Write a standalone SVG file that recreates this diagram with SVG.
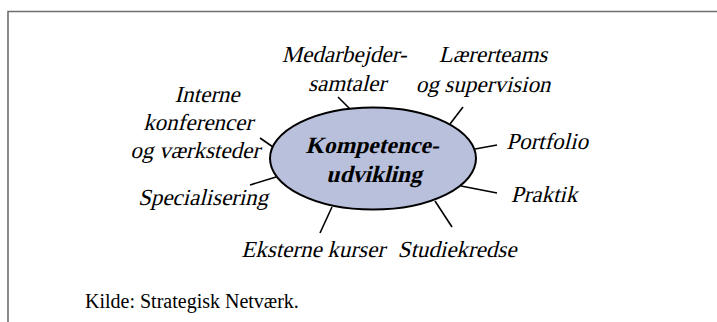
<svg xmlns="http://www.w3.org/2000/svg" width="717" height="322" viewBox="0 0 717 322">
  <style>
    .frame { fill: none; stroke: #6e6e6e; stroke-width: 1.6; }
    .spoke { stroke: #000; stroke-width: 1.6; fill: none; }
    .hub { fill: #b9c0dc; stroke: #000; stroke-width: 2; }
    .lbl { font-family: "Liberation Serif", "Times New Roman", serif; font-size: 23px; fill: #000; text-anchor: middle; }
    .hubtxt { font-family: "Liberation Serif", "Times New Roman", serif; font-weight: bold; font-size: 23.5px; fill: #000; text-anchor: middle; }
    .src { font-family: "Liberation Serif", "Times New Roman", serif; font-size: 20px; fill: #000; }
  </style>
  <rect width="717" height="322" fill="#fff"/>
  <!-- open frame: top and left edges only -->
  <path class="frame" d="M8,322 V11.5 H717"/>

  <g id="connectors">
    <line class="spoke" x1="338" y1="97" x2="350" y2="109"/>
    <line class="spoke" x1="463" y1="107" x2="450" y2="124"/>
    <line class="spoke" x1="497" y1="145" x2="475" y2="149"/>
    <line class="spoke" x1="497" y1="193" x2="461" y2="186"/>
    <line class="spoke" x1="435" y1="201" x2="452" y2="227"/>
    <line class="spoke" x1="332" y1="207" x2="320" y2="233"/>
    <line class="spoke" x1="250" y1="185" x2="276" y2="177"/>
    <line class="spoke" x1="260" y1="138" x2="273" y2="147"/>
  </g>

  <!-- labels are slanted with skewX, anchored at their baseline point -->
  <g id="hub">
    <ellipse class="hub" cx="373" cy="158.5" rx="103" ry="51"/>
    <text class="hubtxt" transform="translate(372,153) skewX(-14)">Kompetence-</text>
    <text class="hubtxt" transform="translate(374,182) skewX(-14)">udvikling</text>
  </g>

  <g id="medarbejdersamtaler">
    <text class="lbl" transform="translate(344,62) skewX(-14)">Medarbejder-</text>
    <text class="lbl" transform="translate(347,91) skewX(-14)">samtaler</text>
  </g>
  <g id="laererteams">
    <text class="lbl" transform="translate(493,62) skewX(-14)">Lærerteams</text>
    <text class="lbl" transform="translate(483,92) skewX(-14)">og supervision</text>
  </g>
  <g id="portfolio">
    <text class="lbl" transform="translate(547,149) skewX(-14)">Portfolio</text>
  </g>
  <g id="praktik">
    <text class="lbl" transform="translate(544,202) skewX(-14)">Praktik</text>
  </g>
  <g id="studiekredse">
    <text class="lbl" transform="translate(457,257) skewX(-14)">Studiekredse</text>
  </g>
  <g id="eksterne-kurser">
    <text class="lbl" transform="translate(313,257) skewX(-14)">Eksterne kurser</text>
  </g>
  <g id="specialisering">
    <text class="lbl" transform="translate(203,205) skewX(-14)">Specialisering</text>
  </g>
  <g id="interne">
    <text class="lbl" transform="translate(207,102) skewX(-14)">Interne</text>
    <text class="lbl" transform="translate(198,130) skewX(-14)">konferencer</text>
    <text class="lbl" transform="translate(195,158) skewX(-14)">og værksteder</text>
  </g>

  <text class="src" x="85" y="308">Kilde: Strategisk Netværk.</text>
</svg>
